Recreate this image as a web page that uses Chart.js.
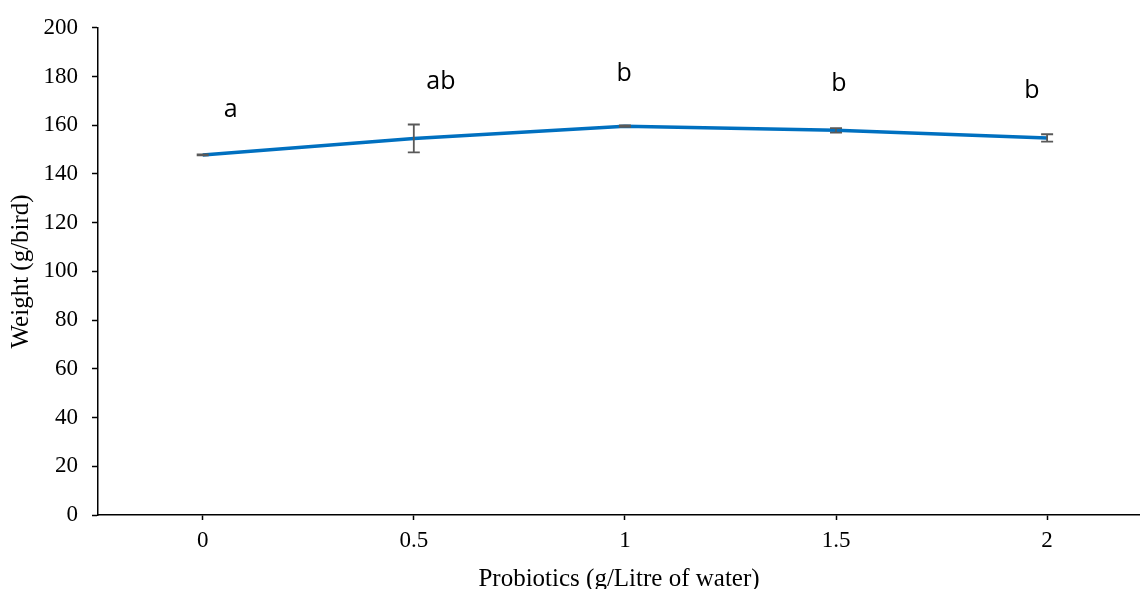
<!DOCTYPE html>
<html lang="en">
<head>
  <meta charset="UTF-8">
  <script src="https://cdn.jsdelivr.net/npm/chart.js@4.4.0/dist/chart.umd.min.js"></script>
  <title>Weight vs probiotics</title>
</head>
<style>
*{
    margin: 0px;
    padding: 0px;
    box-sizing: border-box;
}
body{
    background: white;
}
#diagram{
    width: 1140px;
    height: 589px;
}
</style>
<body>
    <div id="diagram">
        <canvas id="myChart"></canvas>
    </div>
    <script>

// data
const doses = [0, 0.5, 1, 1.5, 2];
const weight = [147.8, 154.6, 159.6, 157.9, 154.8];
const errors = [0.2, 5.7, 0.3, 0.9, 1.5];
const letters = ["a", "ab", "b", "b", "b"];
const letterX = [0.066, 0.564, 0.998, 1.507, 1.964];
const letterY = [166.5, 177.9, 181.2, 177.1, 174.2];
const xTicks = [0, 0.5, 1, 1.5, 2];

const serif = "'Liberation Serif', 'Times New Roman', serif";

// error bars and significance letters
const extras = {
  id: "extras",
  afterDatasetsDraw(chart) {
    const ctx = chart.ctx;
    const xs = chart.scales.x, ys = chart.scales.y;
    ctx.save();
    ctx.strokeStyle = "#595959";
    ctx.lineWidth = 1.8;
    doses.forEach((d, i) => {
      const px = xs.getPixelForValue(d);
      const top = ys.getPixelForValue(weight[i] + errors[i]);
      const bot = ys.getPixelForValue(weight[i] - errors[i]);
      ctx.beginPath();
      ctx.moveTo(px, top); ctx.lineTo(px, bot);
      ctx.moveTo(px - 6, top); ctx.lineTo(px + 6, top);
      ctx.moveTo(px - 6, bot); ctx.lineTo(px + 6, bot);
      ctx.stroke();
    });
    ctx.fillStyle = "#000";
    ctx.font = "25px 'Open Sans', 'Noto Sans', sans-serif";
    ctx.textAlign = "center";
    ctx.textBaseline = "middle";
    letters.forEach((t, i) => {
      ctx.fillText(t, xs.getPixelForValue(letterX[i]), ys.getPixelForValue(letterY[i]));
    });
    ctx.restore();
  }
};

const config = {
  type: "line",
  data: {
    datasets: [{
      label: "Weight",
      data: doses.map((d, i) => ({x: d, y: weight[i]})),
      borderColor: "#0070C0",
      backgroundColor: "#0070C0",
      borderWidth: 3.5,
      pointRadius: 0,
      tension: 0
    }]
  },
  options: {
    responsive: true,
    maintainAspectRatio: false,
    animation: false,
    layout: { padding: { top: 26, right: 0, left: 0, bottom: 0 } },
    plugins: { legend: { display: false }, tooltip: { enabled: false } },
    scales: {
      x: {
        type: "linear",
        min: -0.248,
        max: 2.22,
        afterBuildTicks: (s) => { s.ticks = xTicks.map(v => ({value: v})); },
        afterFit: (s) => { s.height = 74; },
        grid: { display: true, drawOnChartArea: false, drawTicks: true, tickLength: 5,
                tickColor: "#000", tickWidth: 1.5 },
        border: { color: "#000", width: 1.5 },
        ticks: { color: "#000", font: { family: serif, size: 23 }, padding: 7, maxRotation: 0,
                 callback: (v) => String(v) },
        title: { display: true, text: "Probiotics (g/Litre of water)", color: "#000",
                 font: { family: serif, size: 25 }, padding: { top: 4, bottom: -5 } }
      },
      y: {
        min: 0,
        max: 200,
        afterFit: (s) => { s.width = 98; },
        grid: { display: true, drawOnChartArea: false, drawTicks: true, tickLength: 6,
                tickColor: "#000", tickWidth: 1.5 },
        border: { color: "#000", width: 1.5 },
        ticks: { stepSize: 20, color: "#000", font: { family: serif, size: 23 }, padding: 14 },
        title: { display: true, text: "Weight (g/bird)", color: "#000",
                 font: { family: serif, size: 25 }, padding: { top: 6, bottom: 0 } }
      }
    }
  },
  plugins: [extras]
};

var myChart = new Chart(document.getElementById("myChart"), config);
    </script>
</body>
</html>
